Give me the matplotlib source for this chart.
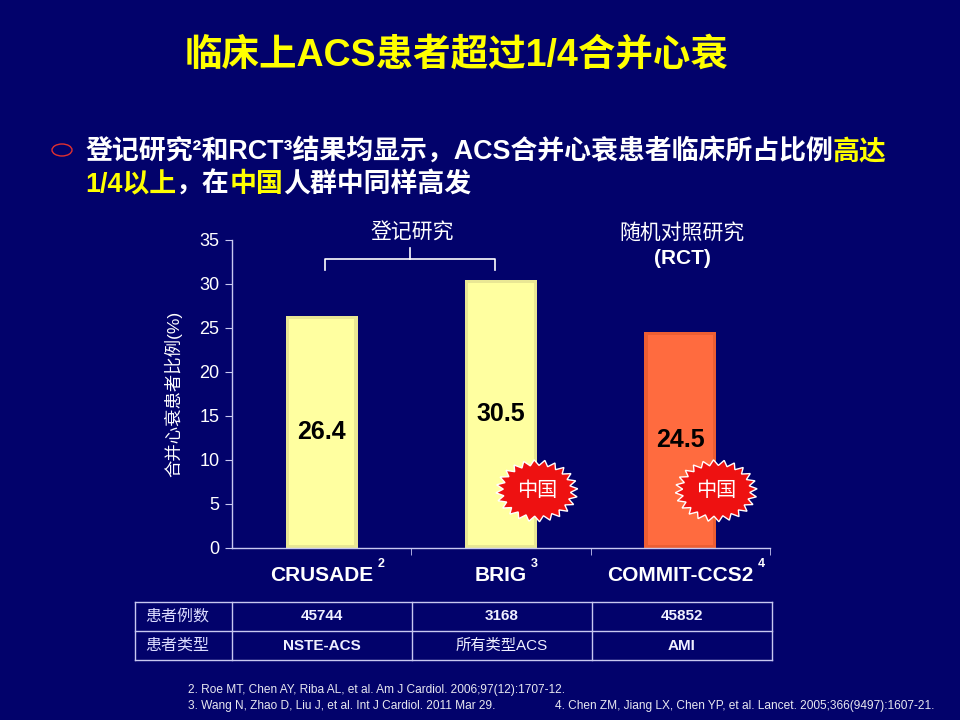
import matplotlib
matplotlib.use('Agg')
import matplotlib.pyplot as plt
import numpy as np
from matplotlib.patches import Polygon, Ellipse
from matplotlib.lines import Line2D

plt.rcParams['font.family'] = ['Liberation Sans', 'Noto Sans CJK SC', 'DejaVu Sans']

# ---------------- data ----------------
studies = ['CRUSADE', 'BRIG', 'COMMIT-CCS2']
study_refs = ['2', '3', '4']
hf_pct = [26.4, 30.5, 24.5]
study_kind = ['registry', 'registry', 'rct']
china_cohort = [False, True, True]
yticks = [0, 5, 10, 15, 20, 25, 30, 35]
row_labels = ['患者例数', '患者类型']
patients_n = ['45744', '3168', '45852']
patient_type = ['NSTE-ACS', '所有类型ACS', 'AMI']
title = '临床上ACS患者超过1/4合并心衰'
bullet_line1 = [('登记研究²和RCT³结果均显示，ACS合并心衰患者临床所占比例', 'white'), ('高达', 'yellow')]
bullet_line2 = [('1/4以上', 'yellow'), ('，在', 'white'), ('中国', 'yellow'), ('人群中同样高发', 'white')]
registry_label = '登记研究'
rct_label = '随机对照研究'
rct_abbr = '(RCT)'
ylabel = '合并心衰患者比例(%)'
footnotes = ['2. Roe MT, Chen AY, Riba AL, et al. Am J Cardiol. 2006;97(12):1707-12.',
             '3. Wang N, Zhao D, Liu J, et al. Int J Cardiol. 2011 Mar 29.',
             '4. Chen ZM, Jiang LX, Chen YP, et al. Lancet. 2005;366(9497):1607-21.']

# ---------------- style ----------------
BG = '#02026b'
LINE = '#c8c8f0'
YELLOW = '#ffff00'
outer_col = {'registry': '#e9e794', 'rct': '#ec5e33'}
inner_col = {'registry': '#ffffa0', 'rct': '#ff6b3f'}
W, H = 960, 720

fig = plt.figure(figsize=(9.6, 7.2), dpi=100, facecolor=BG)
renderer = fig.canvas.get_renderer()


def fx(x):
    return x / W


def fy(y):
    return 1 - y / H


# ---------------- title & bullets ----------------
fig.text(fx(457), fy(56), title, ha='center', va='center', fontsize=27,
         fontweight='bold', color=YELLOW)

fig.patches.append(Ellipse((fx(62), fy(150)), 20 / W, 12 / H, transform=fig.transFigure,
                           facecolor='none', edgecolor='#e03030', lw=1.0))


def draw_segments(x0, ybase, segs, size=19.4):
    x = x0
    for s, c in segs:
        col = YELLOW if c == 'yellow' else 'white'
        t = fig.text(fx(x), fy(ybase), s, ha='left', va='baseline', fontsize=size,
                     fontweight='bold', color=col)
        bb = t.get_window_extent(renderer=renderer)
        x += bb.width


draw_segments(85, 159, bullet_line1)
draw_segments(85, 192, bullet_line2)

# ---------------- chart ----------------
ax = fig.add_axes([fx(232), fy(548), (770 - 232) / W, (548 - 240) / H])
ax.set_facecolor(BG)
ax.set_xlim(-0.5, 2.5)
ax.set_ylim(0, 35)

x = np.arange(len(studies))
vals = np.array(hf_pct)
ax.bar(x, vals, width=0.4, color=[outer_col[k] for k in study_kind], edgecolor='none', zorder=2)
ax.bar(x, vals - 0.7, bottom=0.35, width=0.366, color=[inner_col[k] for k in study_kind],
       edgecolor='none', zorder=3)

for i, v in enumerate(hf_pct):
    ax.text(i, v / 2, f'{v}', ha='center', va='center', fontsize=18, fontweight='bold',
            color='black', zorder=5)

for sp in ['top', 'right']:
    ax.spines[sp].set_visible(False)
for sp in ['left', 'bottom']:
    ax.spines[sp].set_color(LINE)
    ax.spines[sp].set_linewidth(1.0)

ax.set_yticks(yticks)
ax.tick_params(axis='y', colors=LINE, labelcolor='white', labelsize=13, length=5, pad=4, direction='out')
ax.set_xticks(x)
ax.set_xticklabels(studies, fontsize=15, fontweight='bold', color='white')
ax.tick_params(axis='x', length=0, pad=13)
ax.set_xticks([0.5, 1.5, 2.5], minor=True)
ax.tick_params(axis='x', which='minor', length=5, color=LINE, direction='out')
ax.set_ylabel(ylabel, fontsize=12.5, color='white', labelpad=12)

# superscript refs next to category labels
fig.canvas.draw()
inv = fig.transFigure.inverted()
for lab, r in zip(ax.get_xticklabels(), study_refs):
    bb = lab.get_window_extent(renderer=renderer)
    xr, yt = inv.transform((bb.x1 + 4, bb.y1 + 2))
    fig.text(xr, yt, r, ha='left', va='center', fontsize=9, fontweight='bold', color='white')

# "中国" starbursts
px_per_x = (770 - 232) / 3.0
px_per_y = (548 - 240) / 35.0
for i, cn in enumerate(china_cohort):
    if not cn:
        continue
    cx, cy = i + 0.2, 6.5
    n = 24
    ang = np.linspace(0, 2 * np.pi, 2 * n, endpoint=False) + np.pi / (2 * n)
    r = np.where(np.arange(2 * n) % 2 == 0, 1.0, 0.82)
    px_ = cx + r * np.cos(ang) * 41 / px_per_x
    py_ = cy + r * np.sin(ang) * 31 / px_per_y
    ax.add_patch(Polygon(np.column_stack([px_, py_]), closed=True, facecolor='#ee1111',
                         edgecolor='white', lw=1.0, zorder=6, clip_on=False))
    ax.text(cx, cy, '中国', ha='center', va='center', fontsize=14.5, color='white',
            fontweight='medium', zorder=7)

# bracket for registry studies
bx0, bx1, bym, byt, byc = 325, 495, 259, 270, 248
for xs, ys in [([bx0, bx0, bx1, bx1], [byt, bym, bym, byt]), ([410, 410], [bym, byc])]:
    fig.add_artist(Line2D([fx(v) for v in xs], [fy(v) for v in ys], color='white', lw=1.2))
fig.text(fx(412), fy(233), registry_label, ha='center', va='center', fontsize=15, color='white')
fig.text(fx(682), fy(233), rct_label, ha='center', va='center', fontsize=15, color='white')
fig.text(fx(682), fy(258), rct_abbr, ha='center', va='center', fontsize=15, color='white',
         fontweight='bold')

# ---------------- table ----------------
cols = [135, 232, 412, 592, 772]
rows = [602, 631, 660]
for yv in rows:
    fig.add_artist(Line2D([fx(cols[0]), fx(cols[-1])], [fy(yv), fy(yv)], color=LINE, lw=1.0))
for xv in cols:
    fig.add_artist(Line2D([fx(xv), fx(xv)], [fy(rows[0]), fy(rows[-1])], color=LINE, lw=1.0))
for ri, (lab, data) in enumerate(zip(row_labels, [patients_n, patient_type])):
    yc = (rows[ri] + rows[ri + 1]) / 2
    fig.text(fx(145), fy(yc), lab, ha='left', va='center', fontsize=11.5, color='#dcdcff')
    for ci, v in enumerate(data):
        xc = (cols[ci + 1] + cols[ci + 2]) / 2
        fw = 'bold' if v.isascii() else 'normal'
        fig.text(fx(xc), fy(yc), v, ha='center', va='center', fontsize=11, color='#f0f0ff',
                 fontweight=fw)

# ---------------- footnotes ----------------
fig.text(fx(188), fy(690), footnotes[0], ha='left', va='center', fontsize=8.6, color='#e8e8f0')
fig.text(fx(188), fy(706), footnotes[1], ha='left', va='center', fontsize=8.6, color='#e8e8f0')
fig.text(fx(555), fy(706), footnotes[2], ha='left', va='center', fontsize=8.6, color='#e8e8f0')

fig.savefig('out.png', dpi=100, facecolor=BG)
